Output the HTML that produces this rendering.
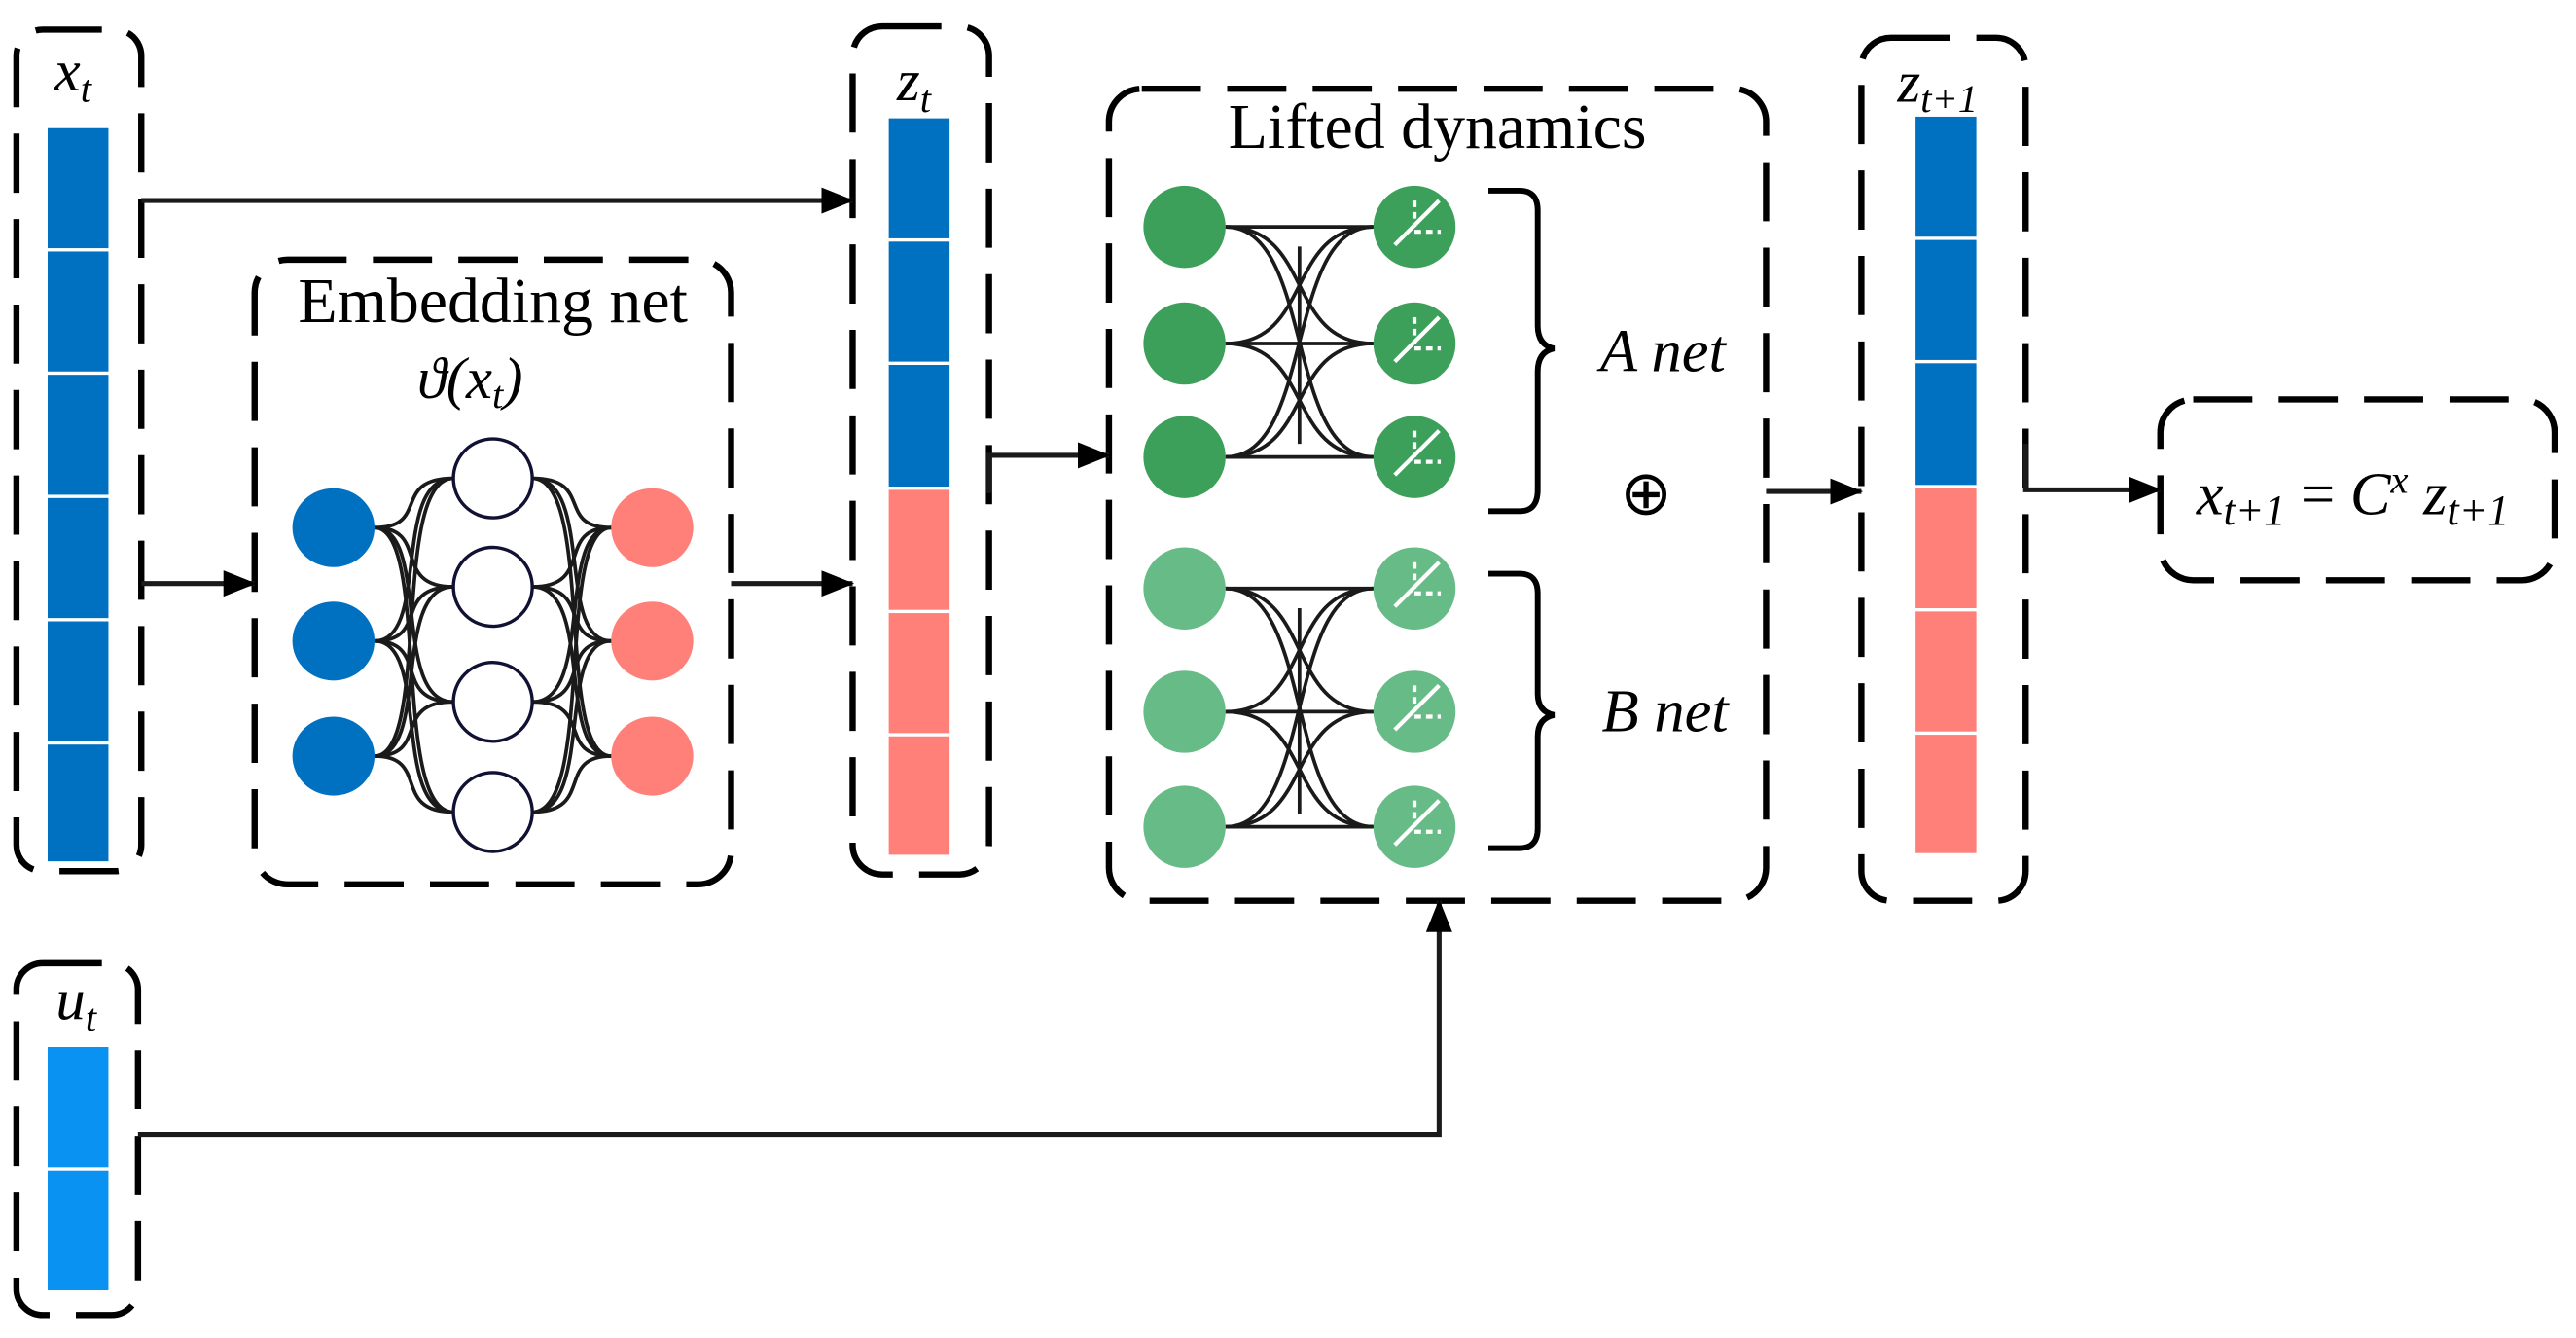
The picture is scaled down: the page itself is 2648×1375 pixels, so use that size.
<!DOCTYPE html>
<html><head><meta charset="utf-8"><style>html,body{margin:0;padding:0;background:#fff}svg{display:block}</style></head>
<body>
<svg width="2648" height="1375" viewBox="0 0 1568 814" preserveAspectRatio="none" xmlns="http://www.w3.org/2000/svg" font-family="'Liberation Serif', serif">
<defs>
<marker id="ah2" markerWidth="20" markerHeight="16" refX="19" refY="8" orient="auto" markerUnits="userSpaceOnUse" viewBox="0 0 20 16"><path d="M0,0 L20,8 L0,16 z" fill="#000"/></marker>
</defs>
<g fill="none" stroke="#000" stroke-width="3.8" stroke-dasharray="36,16">
<rect x="10" y="18" width="76" height="512" rx="16"/>
<rect x="10" y="586" width="74" height="214" rx="16"/>
<rect x="155" y="158" width="290" height="380" rx="20"/>
<rect x="519" y="16" width="83" height="516" rx="18"/>
<rect x="675" y="54" width="400" height="494" rx="20"/>
<rect x="1133" y="23" width="100" height="525" rx="18"/>
<rect x="1315" y="243" width="240" height="110" rx="20"/>
</g>
<g fill="#0070c0">
<rect x="29" y="78" width="37" height="73"/><rect x="29" y="153" width="37" height="73"/><rect x="29" y="228" width="37" height="73"/><rect x="29" y="303" width="37" height="73"/><rect x="29" y="378" width="37" height="73"/><rect x="29" y="453" width="37" height="71"/>
<rect x="541" y="72" width="37" height="73"/><rect x="541" y="147" width="37" height="73"/><rect x="541" y="222" width="37" height="74"/>
<rect x="1166" y="71" width="37" height="73"/><rect x="1166" y="146" width="37" height="73"/><rect x="1166" y="221" width="37" height="74"/>
</g>
<g fill="#0a92f2"><rect x="29" y="637" width="37" height="73"/><rect x="29" y="712" width="37" height="73"/></g>
<g fill="#ff7f79">
<rect x="541" y="298" width="37" height="73"/><rect x="541" y="373" width="37" height="73"/><rect x="541" y="448" width="37" height="72"/>
<rect x="1166" y="297" width="37" height="73"/><rect x="1166" y="372" width="37" height="73"/><rect x="1166" y="447" width="37" height="72"/>
</g>
<g font-style="italic" font-size="36" fill="#000">
<text x="33" y="55">x<tspan font-size="24" dy="7">t</tspan></text>
<text x="34" y="620">u<tspan font-size="24" dy="7">t</tspan></text>
<text x="546" y="61">z<tspan font-size="24" dy="7">t</tspan></text>
<text x="1155" y="62">z<tspan font-size="24" dy="6">t+1</tspan></text>
<text x="974" y="226" font-size="37">A net</text>
<text x="975" y="445" font-size="37">B net</text>
<text x="1337" y="313" font-size="37">x<tspan font-size="26" dy="6">t+1</tspan><tspan dy="-6" font-style="normal"> = </tspan>C<tspan font-size="24" dy="-13">x</tspan><tspan dy="13"> z</tspan><tspan font-size="26" dy="6">t+1</tspan></text>
<text x="254" y="242" font-size="36">ϑ(x<tspan font-size="24" dy="6">t</tspan><tspan dy="-6">)</tspan></text>
</g>
<text x="300" y="196" font-size="39" text-anchor="middle">Embedding net</text>
<text x="875" y="90" font-size="39" text-anchor="middle">Lifted dynamics</text>
<text x="1002" y="313" font-size="38" text-anchor="middle">⊕</text>
<g fill="none" stroke="#1a1a1a" stroke-width="3">
<path d="M86,122 H519" marker-end="url(#ah2)"/>
<path d="M86,355 H155" marker-end="url(#ah2)"/>
<path d="M445,355 H519" marker-end="url(#ah2)"/>
<path d="M602,300 V277 H675" marker-end="url(#ah2)"/>
<path d="M1075,299 H1133" marker-end="url(#ah2)"/>
<path d="M1233,270 V298 H1315" marker-end="url(#ah2)"/>
<path d="M84,690 H876 V548" marker-end="url(#ah2)"/>
</g>
<g fill="none" stroke="#1a1a1a" stroke-width="2.2">
<path d="M228,321 C262,321 238,291 276,291"/><path d="M228,321 C262,321 238,357 276,357"/><path d="M228,321 C262,321 238,427 276,427"/><path d="M228,321 C262,321 238,494 276,494"/>
<path d="M228,390 C262,390 238,291 276,291"/><path d="M228,390 C262,390 238,357 276,357"/><path d="M228,390 C262,390 238,427 276,427"/><path d="M228,390 C262,390 238,494 276,494"/>
<path d="M228,460 C262,460 238,291 276,291"/><path d="M228,460 C262,460 238,357 276,357"/><path d="M228,460 C262,460 238,427 276,427"/><path d="M228,460 C262,460 238,494 276,494"/>
<path d="M372,321 C338,321 362,291 324,291"/><path d="M372,321 C338,321 362,357 324,357"/><path d="M372,321 C338,321 362,427 324,427"/><path d="M372,321 C338,321 362,494 324,494"/>
<path d="M372,390 C338,390 362,291 324,291"/><path d="M372,390 C338,390 362,357 324,357"/><path d="M372,390 C338,390 362,427 324,427"/><path d="M372,390 C338,390 362,494 324,494"/>
<path d="M372,460 C338,460 362,291 324,291"/><path d="M372,460 C338,460 362,357 324,357"/><path d="M372,460 C338,460 362,427 324,427"/><path d="M372,460 C338,460 362,494 324,494"/>
</g>
<g fill="#0070c0"><ellipse cx="203" cy="321" rx="25" ry="24"/><ellipse cx="203" cy="390" rx="25" ry="24"/><ellipse cx="203" cy="460" rx="25" ry="24"/></g>
<g fill="#ff7f79"><ellipse cx="397" cy="321" rx="25" ry="24"/><ellipse cx="397" cy="390" rx="25" ry="24"/><ellipse cx="397" cy="460" rx="25" ry="24"/></g>
<g fill="#fff" stroke="#111133" stroke-width="2"><ellipse cx="300" cy="291" rx="24" ry="24"/><ellipse cx="300" cy="357" rx="24" ry="24"/><ellipse cx="300" cy="427" rx="24" ry="24"/><ellipse cx="300" cy="494" rx="24" ry="24"/></g>
<g fill="none" stroke="#1a1a1a" stroke-width="2.2">
<path d="M746,138 H836 M746,209 H836 M746,278 H836"/>
<path d="M746,138 C800,138 782,209 836,209"/><path d="M746,138 C800,138 782,278 836,278"/>
<path d="M746,209 C800,209 782,138 836,138"/><path d="M746,209 C800,209 782,278 836,278"/>
<path d="M746,278 C800,278 782,138 836,138"/><path d="M746,278 C800,278 782,209 836,209"/>
<path d="M791,150 V270"/>
<path d="M746,358 H836 M746,433 H836 M746,503 H836"/>
<path d="M746,358 C800,358 782,433 836,433"/><path d="M746,358 C800,358 782,503 836,503"/>
<path d="M746,433 C800,433 782,358 836,358"/><path d="M746,433 C800,433 782,503 836,503"/>
<path d="M746,503 C800,503 782,358 836,358"/><path d="M746,503 C800,503 782,433 836,433"/>
<path d="M791,370 V495"/>
</g>
<g fill="#3ca05a"><circle cx="721" cy="138" r="25"/><circle cx="721" cy="209" r="25"/><circle cx="721" cy="278" r="25"/><circle cx="861" cy="138" r="25"/><circle cx="861" cy="209" r="25"/><circle cx="861" cy="278" r="25"/></g>
<g fill="#66bb86"><circle cx="721" cy="358" r="25"/><circle cx="721" cy="433" r="25"/><circle cx="721" cy="503" r="25"/><circle cx="861" cy="358" r="25"/><circle cx="861" cy="433" r="25"/><circle cx="861" cy="503" r="25"/></g>
<g stroke="#fff" stroke-width="2.5" fill="none">
<g id="act"><path d="M849,149 L876,122"/><path d="M861,122 V138 M861,141 H877" stroke-dasharray="4,3"/></g>
<use href="#act" y="71"/><use href="#act" y="140"/><use href="#act" y="220"/><use href="#act" y="295"/><use href="#act" y="365"/>
</g>
<g fill="none" stroke="#000" stroke-width="3.5">
<path d="M906,116 H925 Q936,116 936,128 V198 Q936,210 946,212 Q936,214 936,226 V298 Q936,311 925,311 H906"/>
<path d="M906,349 H925 Q936,349 936,361 V422 Q936,433 946,435 Q936,437 936,448 V504 Q936,516 925,516 H906"/>
</g>
</svg>
</body></html>
